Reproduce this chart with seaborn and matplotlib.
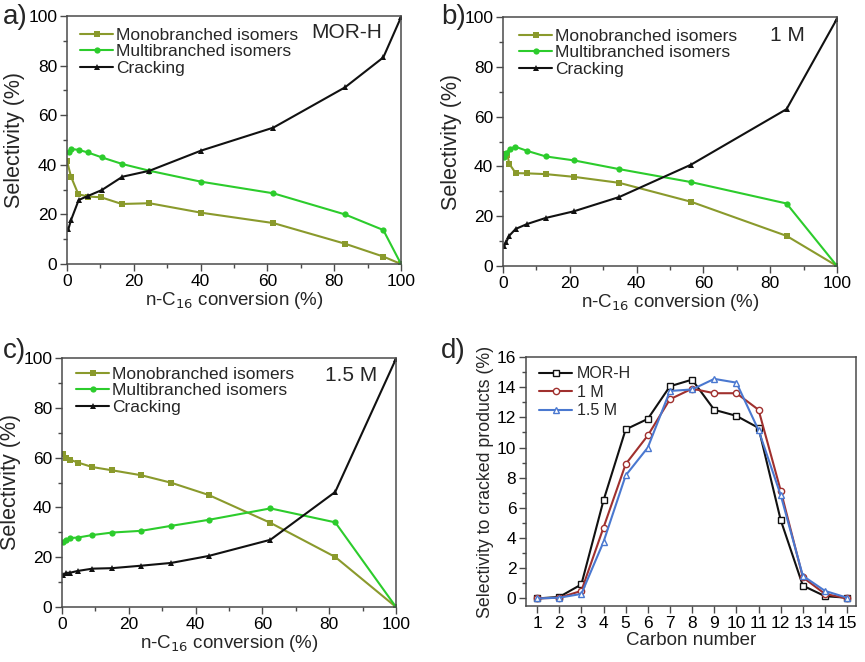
import matplotlib
matplotlib.use("Agg")
import matplotlib.pyplot as plt
import seaborn as sns
import pandas as pd
from matplotlib.ticker import MultipleLocator

# ---------------- data ----------------
# Panel a (MOR-H)
a_mono_x = [0, 1.2, 3.4, 6.4, 10.2, 16.4, 24.7, 40.1, 61.8, 83.2, 94.7, 100]
a_mono_y = [41.5, 35.2, 28.1, 27.2, 26.9, 24.2, 24.5, 20.7, 16.5, 8.2, 3.0, 0]
a_multi_x = [0.5, 1.2, 3.5, 6.2, 10.4, 16.6, 24.7, 40.1, 61.8, 83.2, 94.7, 100]
a_multi_y = [45.3, 46.4, 46.0, 45.0, 43.0, 40.3, 37.6, 33.2, 28.5, 20.0, 13.7, 0]
a_crack_x = [0.4, 1.2, 3.5, 6.2, 10.4, 16.6, 24.7, 40.1, 61.8, 83.2, 94.7, 100]
a_crack_y = [14.0, 17.7, 25.8, 27.4, 29.8, 35.2, 37.6, 45.7, 55.0, 71.2, 83.3, 99.5]

# Panel b (1 M)
b_mono_x = [0.3, 1.3, 1.9, 3.8, 7.3, 12.8, 21.3, 34.8, 56.3, 84.9, 100]
b_mono_y = [45.0, 44.6, 41.0, 37.3, 37.2, 36.9, 35.8, 33.4, 25.8, 12.1, 0]
b_multi_x = [0.3, 1.0, 2.1, 3.7, 7.3, 12.8, 21.3, 34.8, 56.3, 84.9, 100]
b_multi_y = [43.9, 45.5, 47.1, 47.9, 46.2, 44.0, 42.4, 38.9, 33.7, 25.1, 0]
b_crack_x = [0.3, 1.0, 1.9, 3.8, 7.3, 12.8, 21.3, 34.8, 56.3, 84.9, 100]
b_crack_y = [7.9, 9.7, 12.2, 14.9, 16.9, 19.3, 22.0, 27.7, 40.7, 63.0, 99.3]

# Panel c (1.5 M)
c_x = [0.3, 1.3, 2.5, 4.8, 9.1, 15.0, 23.8, 32.7, 43.9, 62.4, 81.8, 100]
c_mono_y = [61.5, 59.9, 59.1, 58.0, 56.2, 54.9, 52.9, 49.9, 45.0, 33.8, 20.1, 0]
c_multi_y = [26.0, 26.8, 27.7, 27.9, 28.9, 29.9, 30.6, 32.6, 35.0, 39.6, 34.0, 0]
c_crack_y = [13.0, 13.7, 13.8, 14.5, 15.4, 15.6, 16.6, 17.7, 20.5, 27.0, 46.2, 99.7]

# Panel d (cracked product distribution)
carbon = list(range(1, 16))
d_morh = [0, 0.1, 0.93, 6.5, 11.2, 11.9, 14.06, 14.5, 12.5, 12.1, 11.3, 5.2, 0.85, 0.15, 0.05]
d_1m = [0, 0.05, 0.5, 4.7, 8.9, 10.8, 13.2, 13.9, 13.6, 13.6, 12.5, 7.15, 1.4, 0.3, 0]
d_15m = [0, 0.05, 0.3, 3.75, 8.15, 10.0, 13.75, 13.85, 14.55, 14.3, 11.15, 6.85, 1.5, 0.5, 0.05]

series_labels = ["Monobranched isomers", "Multibranched isomers", "Cracking"]
sample_labels = ["MOR-H", "1 M", "1.5 M"]

# ---------------- style ----------------
sns.set_style("ticks")
plt.rcParams["font.family"] = ["Liberation Sans", "DejaVu Sans"]
plt.rcParams["axes.edgecolor"] = "#4a4a4a"
plt.rcParams["xtick.color"] = "#4a4a4a"
plt.rcParams["ytick.color"] = "#4a4a4a"
plt.rcParams["xtick.labelcolor"] = "black"
plt.rcParams["ytick.labelcolor"] = "black"

C_MONO = "#8a9a2c"
C_MULTI = "#2ccc2c"
C_CRACK = "#111111"

fig = plt.figure(figsize=(8.65, 6.62), dpi=100)

W = 334 / 865
H = 249 / 662
ax_a = fig.add_axes([67 / 865, (662 - 264) / 662, W, 248 / 662])
ax_b = fig.add_axes([503 / 865, (662 - 266) / 662, W, H])
ax_c = fig.add_axes([62 / 865, (662 - 607) / 662, W, H])
ax_d = fig.add_axes([526 / 865, (662 - 606) / 662, 330 / 865, H])


def style_spines(ax):
    for s in ax.spines.values():
        s.set_visible(True)
        s.set_linewidth(1.1)


def sel_panel(ax, mono, multi, crack, tag, leg_anchor, tag_pos):
    for (xs, ys), lab, col, mk in zip(
        [mono, multi, crack], series_labels, [C_MONO, C_MULTI, C_CRACK], ["s", "o", "^"]
    ):
        df = pd.DataFrame({"x": xs, "y": ys})
        sns.lineplot(data=df, x="x", y="y", ax=ax, color=col, marker=mk,
                     markersize=4.5, markeredgewidth=0, linewidth=1.5, label=lab,
                     sort=False)
    ax.set_xlim(0, 100)
    ax.set_ylim(0, 100)
    ax.xaxis.set_major_locator(MultipleLocator(20))
    ax.xaxis.set_minor_locator(MultipleLocator(10))
    ax.yaxis.set_major_locator(MultipleLocator(20))
    ax.yaxis.set_minor_locator(MultipleLocator(10))
    ax.tick_params(which="major", length=5, width=1, labelsize=12.5, pad=2)
    ax.tick_params(which="minor", length=3, width=1)
    ax.set_xlabel("n-C$_{16}$ conversion (%)", fontsize=13.5, labelpad=1)
    ax.set_ylabel("Selectivity (%)", fontsize=15.5, labelpad=2)
    style_spines(ax)
    ax.legend(loc="upper left", frameon=False, fontsize=12.5, handlelength=1.9,
              handletextpad=0.2, labelspacing=0.07, borderaxespad=0, borderpad=0,
              bbox_to_anchor=leg_anchor)
    ax.text(tag_pos[0], tag_pos[1], tag, transform=ax.transAxes, ha="right",
            va="center", fontsize=15)


sel_panel(ax_a, (a_mono_x, a_mono_y), (a_multi_x, a_multi_y), (a_crack_x, a_crack_y),
          "MOR-H", (0.039, 0.952), (0.943, 0.932))
sel_panel(ax_b, (b_mono_x, b_mono_y), (b_multi_x, b_multi_y), (b_crack_x, b_crack_y),
          "1 M", (0.048, 0.952), (0.904, 0.924))
sel_panel(ax_c, (c_x, c_mono_y), (c_x, c_multi_y), (c_x, c_crack_y),
          "1.5 M", (0.042, 0.964), (0.943, 0.928))

# Panel d
for ys, lab, col, mk in zip([d_morh, d_1m, d_15m], sample_labels,
                            ["#111111", "#a0302e", "#4a78d0"], ["s", "o", "^"]):
    df = pd.DataFrame({"c": carbon, "y": ys})
    sns.lineplot(data=df, x="c", y="y", ax=ax_d, color=col, marker=mk,
                 markersize=4.5, markerfacecolor="white", markeredgecolor=col,
                 markeredgewidth=1.0, linewidth=1.5, label=lab)
ax_d.set_xlim(0.5, 15.4)
ax_d.set_ylim(-0.5, 16)
ax_d.set_xticks(carbon)
ax_d.yaxis.set_major_locator(MultipleLocator(2))
ax_d.yaxis.set_minor_locator(MultipleLocator(1))
ax_d.tick_params(which="major", length=5, width=1, labelsize=12.5, pad=2)
ax_d.tick_params(which="minor", length=3, width=1)
ax_d.set_xlabel("Carbon number", fontsize=13.5, labelpad=1)
ax_d.set_ylabel("Selectivity to cracked products (%)", fontsize=12.8, labelpad=2)
style_spines(ax_d)
ax_d.legend(loc="upper left", frameon=False, fontsize=11.5, handlelength=2.1,
            handletextpad=0.3, labelspacing=0.22, borderaxespad=0, borderpad=0,
            bbox_to_anchor=(0.039, 0.962))

# panel letters
for x, y, t in [(3, 4, "a)"), (441, 4, "b)"), (3, 338, "c)"), (441, 338, "d)")]:
    fig.text(x / 865, 1 - y / 662, t, fontsize=20, ha="left", va="top")

fig.savefig("out.png", dpi=100)
